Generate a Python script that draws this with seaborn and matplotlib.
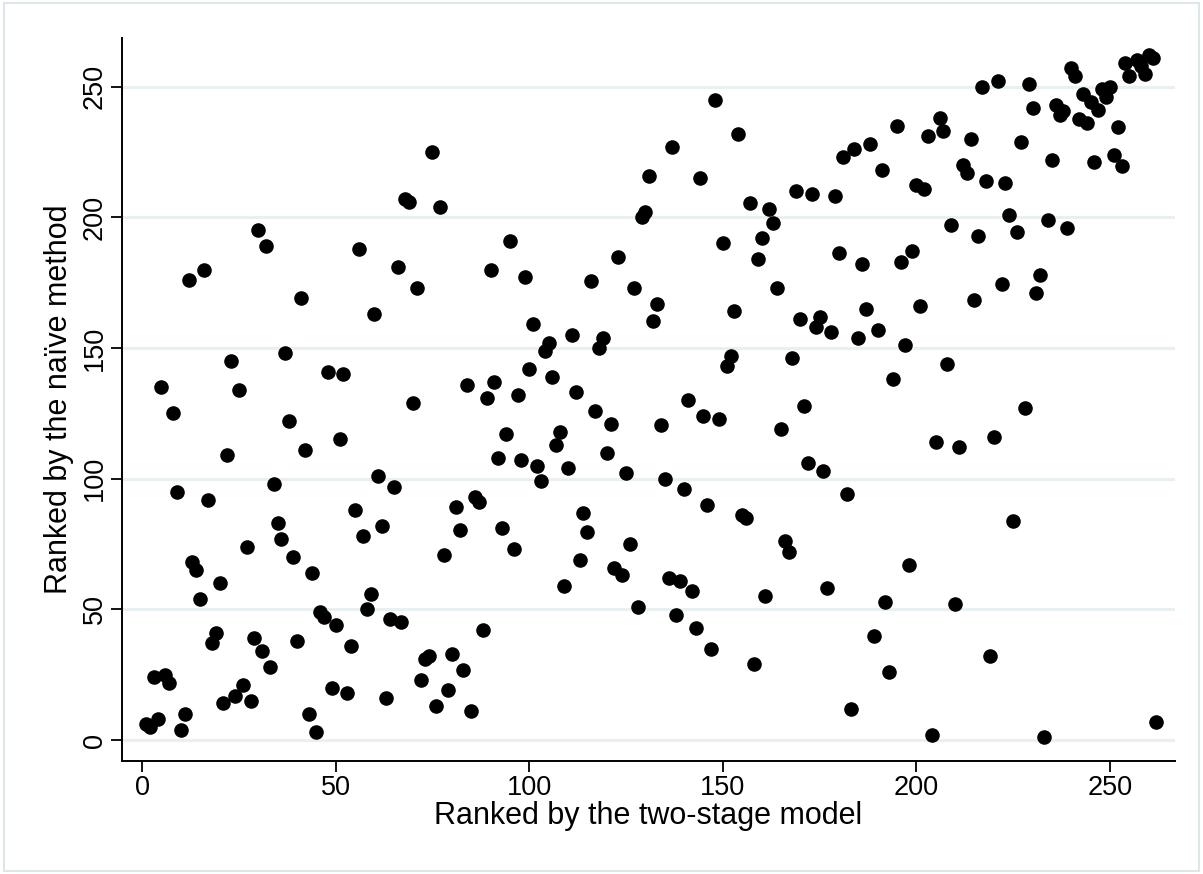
import matplotlib
matplotlib.use("Agg")
import matplotlib.pyplot as plt
import seaborn as sns
from matplotlib.patches import Rectangle

# Data (rank by two-stage model vs rank by naive method)
two_stage = list(range(1, 256)) + [257, 258, 259, 260, 261, 262]
naive = [
    6, 5, 24, 8, 135, 25, 22, 125, 95, 4,
    10, 176, 68, 65, 54, 180, 92, 37, 41, 60,
    14, 109, 145, 17, 134, 21, 74, 15, 39, 195,
    34, 189, 28, 98, 83, 77, 148, 122, 70, 38,
    169, 111, 10, 64, 3, 49, 47, 141, 20, 44,
    115, 140, 18, 36, 88, 188, 78, 50, 56, 163,
    101, 82, 16, 46.5, 97, 181, 45, 207, 206, 129,
    173, 23, 31, 32, 225, 13, 204, 71, 19, 33,
    89, 80.5, 27, 136, 11, 93, 91, 42, 131, 180,
    137, 108, 81, 117, 191, 73, 132, 107, 177, 142,
    159, 105, 99, 149, 152, 139, 113, 118, 59, 104,
    155, 133, 69, 87, 79.5, 175.5, 126, 150, 154, 110,
    121, 66, 185, 63, 102, 75, 173, 51, 200, 202,
    216, 160.5, 167, 120.5, 100, 62, 227, 48, 61, 96,
    130, 57, 43, 215, 124, 90, 35, 245, 123, 190,
    143, 147, 164, 232, 86, 85, 205.5, 29, 184, 192,
    55, 203, 198, 173, 119, 76, 72, 146, 210, 161,
    128, 106, 209, 158, 162, 103, 58, 156, 208, 186.5,
    223, 94, 12, 226, 154, 182, 165, 228, 40, 157,
    218, 53, 26, 138, 235, 183, 151, 67, 187, 212.5,
    166, 211, 231, 2, 114, 238, 233, 144, 197, 52,
    112, 220, 217, 230, 168.5, 193, 250, 214, 32, 116,
    252, 174.5, 213, 201, 84, 194.5, 229, 127, 251, 242,
    171, 178, 1, 199, 222, 243, 239, 240.5, 196, 257,
    254, 237.6, 247, 236, 244, 221, 241, 249, 246, 250,
    224, 234.5, 219.5, 259, 254,
    260, 258, 255, 262, 261, 7,
]
tick_values = [0, 50, 100, 150, 200, 250]
x_label = "Ranked by the two-stage model"
y_label = "Ranked by the naïve method"

sns.set_style("white")
plt.rcParams["font.family"] = ["Liberation Sans", "DejaVu Sans"]
plt.rcParams["text.color"] = "black"
plt.rcParams["axes.labelcolor"] = "black"

fig = plt.figure(figsize=(12.03, 8.74), dpi=100)
fig.patch.set_facecolor("white")
fig.patches.append(Rectangle((0.003, 0.004), 0.994, 0.992, transform=fig.transFigure,
                             fill=False, edgecolor="#dde7ea", linewidth=1.5))

ax = fig.add_axes([0.1014, 0.1293, 0.8753, 0.8272])
sns.scatterplot(x=two_stage, y=naive, color="black", s=110, linewidth=0, ax=ax)

ax.set_xlim(-5.2, 266.8)
ax.set_ylim(-8.0, 268.6)
ax.set_xticks(tick_values)
ax.set_yticks(tick_values)
ax.yaxis.grid(True, color="#e8f0f2", linewidth=2.2)
ax.xaxis.grid(False)
ax.set_axisbelow(True)

for s in ["top", "right"]:
    ax.spines[s].set_visible(False)
for s in ["left", "bottom"]:
    ax.spines[s].set_color("black")
    ax.spines[s].set_linewidth(1.4)

ax.tick_params(axis="both", direction="out", length=8, width=1.3, colors="black",
               labelsize=19.5, left=True, bottom=True)
ax.tick_params(axis="x", pad=2)
ax.tick_params(axis="y", pad=2)
for lab in ax.get_yticklabels():
    lab.set_rotation(90)
    lab.set_va("center")

ax.set_xlabel(x_label, fontsize=22, labelpad=0)
ax.set_ylabel(y_label, fontsize=22, labelpad=6)

fig.savefig("out.png", dpi=100)
